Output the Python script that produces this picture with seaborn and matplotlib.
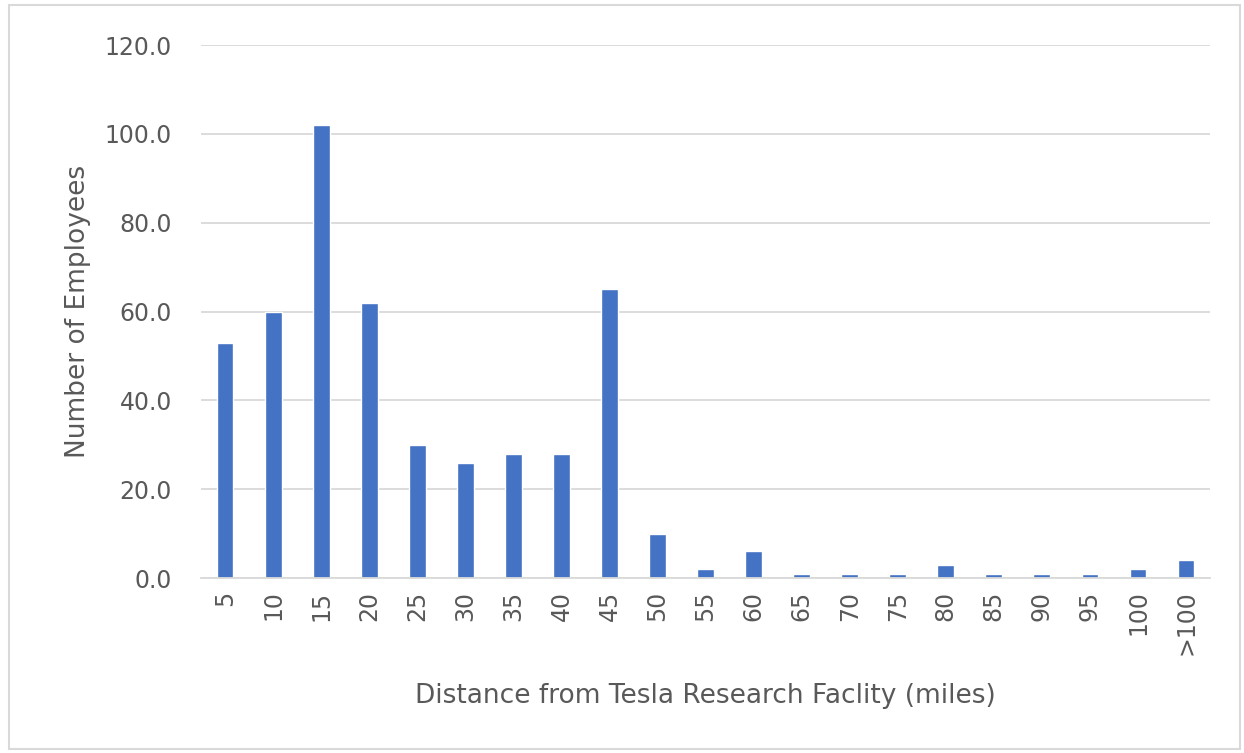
import pandas as pd
import matplotlib.pyplot as plt
import matplotlib.patches as mpatches
import seaborn as sns

# Distance bins (miles) and employee counts
distance_bins = ['5', '10', '15', '20', '25', '30', '35', '40', '45', '50', '55',
                 '60', '65', '70', '75', '80', '85', '90', '95', '100', '>100']
employee_counts = [53, 60, 102, 62, 30, 26, 28, 28, 65, 10, 2,
                   6, 1, 1, 1, 3, 1, 1, 1, 2, 4]

df = pd.DataFrame({'Distance': distance_bins, 'Employees': employee_counts})

sns.set_style('white')
plt.rcParams['font.family'] = ['DejaVu Sans']

fig = plt.figure(figsize=(12.44, 7.53), dpi=100)
ax = fig.add_axes([0.1616, 0.2324, 0.8111, 0.7076])

sns.barplot(data=df, x='Distance', y='Employees', color='#4472C4',
            width=0.35, saturation=1, ax=ax)

ax.set_ylim(0, 120)
ax.set_yticks(range(0, 121, 20))
ax.set_yticklabels([f'{v:.1f}' for v in range(0, 121, 20)])
ax.set_xlim(-0.5, len(distance_bins) - 0.5)
ax.yaxis.grid(True, color='#D9D9D9', linewidth=1.3)
ax.set_axisbelow(True)
for side in ['top', 'right', 'left']:
    ax.spines[side].set_visible(False)
ax.spines['bottom'].set_color('#D9D9D9')
ax.spines['bottom'].set_linewidth(1.3)

ax.tick_params(axis='y', length=0, labelsize=17, labelcolor='#595959', pad=21)
ax.tick_params(axis='x', length=0, labelsize=17, labelcolor='#595959', rotation=90, pad=9)

ax.set_xlabel('Distance from Tesla Research Faclity (miles)', fontsize=19,
              color='#595959', labelpad=20)
ax.set_ylabel('Number of Employees', fontsize=19, color='#595959', labelpad=10)

# light frame around the whole chart
fig.patches.append(mpatches.Rectangle((0.007, 0.005), 0.99, 0.988, transform=fig.transFigure,
                                      fill=False, edgecolor='#D9D9D9', linewidth=1.5))

fig.savefig('out.png', dpi=100)
